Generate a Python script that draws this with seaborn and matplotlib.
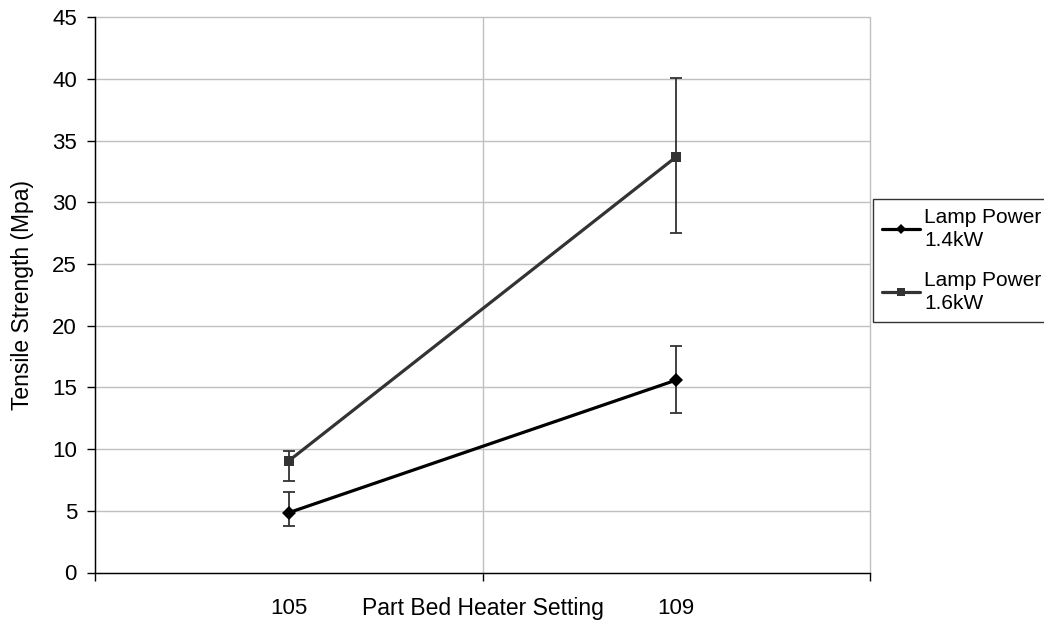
import matplotlib
matplotlib.use("Agg")
import matplotlib.pyplot as plt
import seaborn as sns
import pandas as pd
import numpy as np

settings = ["105", "109"]
series_names = ["Lamp Power\n1.4kW", "Lamp Power\n1.6kW"]
values_14 = [4.85, 15.6]
low_14 = [3.8, 12.9]
high_14 = [6.55, 18.35]
values_16 = [9.05, 33.7]
low_16 = [7.45, 27.5]
high_16 = [9.85, 40.05]
y_ticks = [0, 5, 10, 15, 20, 25, 30, 35, 40, 45]

sns.set_theme(style="white")
plt.rcParams['font.family'] = ['Liberation Sans', 'DejaVu Sans']
plt.rcParams['text.color'] = 'black'
plt.rcParams['xtick.color'] = 'black'
plt.rcParams['ytick.color'] = 'black'
plt.rcParams['axes.labelcolor'] = 'black'

FS_TICK = 16
FS_LAB = 16.5
FS_LEG = 15

pos = list(range(len(settings)))
df = pd.DataFrame({
    "pos": pos + pos,
    "value": values_14 + values_16,
    "series": [series_names[0]] * 2 + [series_names[1]] * 2,
})

fig = plt.figure(figsize=(10.44, 6.21), dpi=100)
ax = fig.add_axes([95/1044, 1 - 572.5/621, (870-95)/1044, (572.5-17.4)/621])

colors = {series_names[0]: "#000000", series_names[1]: "#333333"}
sns.lineplot(data=df, x="pos", y="value", hue="series", style="series",
             markers={series_names[0]: "D", series_names[1]: "s"}, dashes=False,
             palette=colors, linewidth=2.3, markersize=7, markeredgewidth=0,
             ax=ax, legend=True)

for vals, lo, hi in [(values_14, low_14, high_14), (values_16, low_16, high_16)]:
    v = np.array(vals); l = np.array(lo); h = np.array(hi)
    ax.errorbar(pos, v, yerr=[v - l, h - v], fmt="none", ecolor="#333333",
                elinewidth=1.3, capsize=4.5, capthick=1.3, zorder=1)

ax.set_xlim(-0.5, 1.5)
ax.set_ylim(0, 45)
ax.set_yticks(y_ticks)
ax.set_xticks([-0.5, 0.5, 1.5])
ax.set_xticklabels([])
ax.set_xticks(pos, minor=True)
ax.set_xticklabels(settings, minor=True)
ax.tick_params(axis="x", which="minor", bottom=False, length=0, pad=18, labelsize=FS_TICK)
ax.tick_params(axis="x", which="major", bottom=True, direction="out", length=6, width=1, color="black")
ax.tick_params(axis="y", which="major", left=True, direction="out", length=6, width=1,
               color="black", labelsize=FS_TICK, pad=7, labelcolor="black")
ax.grid(True, which="major", color="#c0c0c0", linewidth=1)
for gl in ax.get_xgridlines() + ax.get_ygridlines():
    gl.set_clip_on(False)
ax.set_axisbelow(True)
for s in ["top", "right"]:
    ax.spines[s].set_visible(False)
for s in ["left", "bottom"]:
    ax.spines[s].set_color("black")
    ax.spines[s].set_linewidth(1)
ax.set_xlabel("")
ax.set_ylabel("Tensile Strength (Mpa)", fontsize=FS_LAB, labelpad=13, color="black")
ax.annotate("Part Bed Heater Setting", xy=(0.5, 0), xycoords="axes fraction",
            xytext=(0, -18), textcoords="offset points",
            ha="center", va="top", fontsize=FS_LAB, color="black")
for lab in ax.get_xticklabels(minor=True):
    lab.set_color("black")

ax.get_legend().remove()
handles, labels = ax.get_legend_handles_labels()
for h in handles:
    h.set_markersize(5.5)
leg = fig.legend(handles, labels, loc="upper left", bbox_to_anchor=(873/1044, 1 - 199/621),
                 frameon=True, fancybox=False, fontsize=FS_LEG, handlelength=1.8,
                 handletextpad=0.2, labelspacing=1.0, borderpad=0.45, borderaxespad=0)
leg.get_frame().set_edgecolor("black")
leg.get_frame().set_linewidth(1)
for t in leg.get_texts():
    t.set_color("black")
    t.set_linespacing(1.25)

fig.savefig("out.png", dpi=100)
